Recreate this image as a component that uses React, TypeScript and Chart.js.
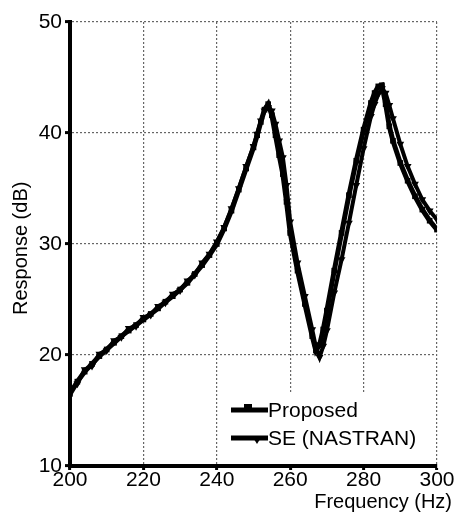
import React, { useEffect, useRef } from "react";
import { Chart, registerables } from "chart.js";

Chart.register(...registerables);

const frequencies = [
  200, 202, 204, 206, 208, 210, 212, 214, 216, 218, 220, 222, 224, 226, 228, 230, 232, 234, 236, 238, 240, 242, 244, 246, 248, 250,
  251, 252, 253, 254, 255, 256, 257, 258, 259, 260,
  262, 264, 266, 267, 268, 269, 270,
  272, 274, 276, 278, 280, 282, 283, 284, 285, 286, 287, 288,
  290, 292, 294, 296, 298, 300,
];

const proposed = [
  16.5, 17.6, 18.5, 19.2, 19.9, 20.5, 21.1, 21.7, 22.2, 22.7, 23.2, 23.7, 24.2, 24.8, 25.3, 25.9, 26.5, 27.3, 28.1, 29.0, 30.0, 31.4, 33.0, 34.9, 36.8, 38.7,
  39.8, 41.0, 42.1, 42.6, 41.6, 39.8, 38.0, 36.3, 33.8, 31.0,
  27.6, 24.6, 21.7, 20.4, 20.9, 22.3, 24.0,
  27.6, 31.0, 34.4, 37.5, 40.3, 42.7, 43.6, 44.2, 44.3, 42.6, 40.6, 39.3,
  37.3, 35.7, 34.3, 33.1, 32.1, 31.3,
];

const seNastran = [
  16.8, 17.4, 18.7, 19.0, 20.1, 20.4, 21.3, 21.6, 22.4, 22.6, 23.4, 23.6, 24.4, 24.7, 25.5, 25.8, 26.7, 27.2, 28.3, 29.1, 30.2, 31.5, 33.2, 35.0, 37.0, 38.8,
  39.9, 41.1, 42.0, 42.3, 42.0, 40.8, 39.3, 37.8, 35.3, 32.0,
  28.3, 25.3, 22.3, 20.7, 19.8, 20.8, 22.2,
  25.6, 28.6, 31.9, 35.3, 38.6, 41.5, 42.6, 43.5, 44.0, 43.6, 42.5, 41.3,
  39.0, 37.0, 35.4, 34.0, 33.0, 32.2,
];

const seriesLabels = ["Proposed", "SE (NASTRAN)"];
const xTicks = [200, 220, 240, 260, 280, 300];
const yTicks = [10, 20, 30, 40, 50];
const xTitle = "Frequency (Hz)";
const yTitle = "Response (dB)";

const FONT = "'Liberation Sans', Arial, Helvetica, sans-serif";

const overlayPlugin = {
  id: "overlay",
  afterDatasetsDraw(chart: any) {
    const ctx = chart.ctx;
    const area = chart.chartArea;
    ctx.save();
    const bx = 221;
    const by = 394;
    ctx.fillStyle = "#fff";
    ctx.fillRect(bx, by, area.right - 2 - bx, area.bottom - 2 - by);
    const rows = [
      { y: 410, style: "rect", mx: 248 },
      { y: 438, style: "tri", mx: 257 },
    ];
    rows.forEach((r, i) => {
      ctx.strokeStyle = "#000";
      ctx.lineWidth = 5;
      ctx.beginPath();
      ctx.moveTo(231, r.y);
      ctx.lineTo(268, r.y);
      ctx.stroke();
      ctx.fillStyle = "#000";
      if (r.style === "rect") {
        ctx.fillRect(r.mx - 4, r.y - 6, 8, 8);
      } else {
        ctx.beginPath();
        ctx.moveTo(r.mx - 5, r.y - 2);
        ctx.lineTo(r.mx + 5, r.y - 2);
        ctx.lineTo(r.mx, r.y + 6);
        ctx.closePath();
        ctx.fill();
      }
      ctx.font = `21px ${FONT}`;
      ctx.textBaseline = "middle";
      ctx.textAlign = "left";
      ctx.fillText(chart.data.datasets[i].label, 268, r.y + 1);
    });
    ctx.restore();
  },
  afterDraw(chart: any) {
    const ctx = chart.ctx;
    ctx.save();
    ctx.fillStyle = "#000";
    ctx.font = `20px ${FONT}`;
    ctx.textAlign = "right";
    ctx.textBaseline = "alphabetic";
    ctx.fillText(xTitle, 452, 508);
    ctx.translate(27, 315);
    ctx.rotate(-Math.PI / 2);
    ctx.textAlign = "left";
    ctx.fillText(yTitle, 0, 0);
    ctx.restore();
  },
};

export default function App() {
  const ref = useRef<HTMLCanvasElement>(null);
  useEffect(() => {
    if (!ref.current) return;
    Chart.defaults.font.family = FONT;
    const chart = new Chart(ref.current, {
      type: "line",
      data: {
        datasets: [
          {
            label: seriesLabels[0],
            data: frequencies.map((f, i) => ({ x: f, y: proposed[i] })),
            borderColor: "#000",
            backgroundColor: "#000",
            borderWidth: 5,
            pointStyle: "rect",
            pointRadius: 4,
            pointBorderWidth: 0,
            tension: 0,
          },
          {
            label: seriesLabels[1],
            data: frequencies.map((f, i) => ({ x: f, y: seNastran[i] })),
            borderColor: "#000",
            backgroundColor: "#000",
            borderWidth: 4,
            pointStyle: "triangle",
            rotation: 180,
            pointRadius: 4.5,
            pointBorderWidth: 0,
            tension: 0,
          },
        ],
      },
      options: {
        animation: false,
        responsive: true,
        maintainAspectRatio: false,
        layout: { padding: { left: 0, top: 22, right: 24, bottom: 0 } },
        plugins: {
          legend: { display: false },
          tooltip: { enabled: false },
        },
        scales: {
          x: {
            type: "linear",
            min: 200,
            max: 300,
            afterFit: (s: any) => {
              s.height = 61;
            },
            afterBuildTicks: (s: any) => {
              s.ticks = xTicks.map((v) => ({ value: v }));
            },
            ticks: {
              color: "#000",
              font: { size: 21, family: FONT },
              padding: -2,
              maxRotation: 0,
            },
            grid: {
              color: "#666",
              lineWidth: 1.2,
              tickColor: "#000",
              tickLength: 4,
              tickWidth: 3,
            },
            border: { display: true, color: "#000", width: 4, dash: [2, 2] },
          },
          y: {
            type: "linear",
            min: 10,
            max: 50,
            afterFit: (s: any) => {
              s.width = 70;
            },
            afterBuildTicks: (s: any) => {
              s.ticks = yTicks.map((v) => ({ value: v }));
            },
            ticks: {
              color: "#000",
              font: { size: 21, family: FONT },
              padding: 3,
            },
            grid: {
              color: "#666",
              lineWidth: 1.2,
              tickColor: "#000",
              tickLength: 5,
              tickWidth: 3,
            },
            border: { display: true, color: "#000", width: 4, dash: [2, 2] },
          },
        },
      },
      plugins: [overlayPlugin],
    });
    return () => chart.destroy();
  }, []);
  return (
    <div style={{ position: "absolute", left: 0, top: 0, width: 461, height: 527, background: "#fff" }}>
      <canvas ref={ref} />
    </div>
  );
}
